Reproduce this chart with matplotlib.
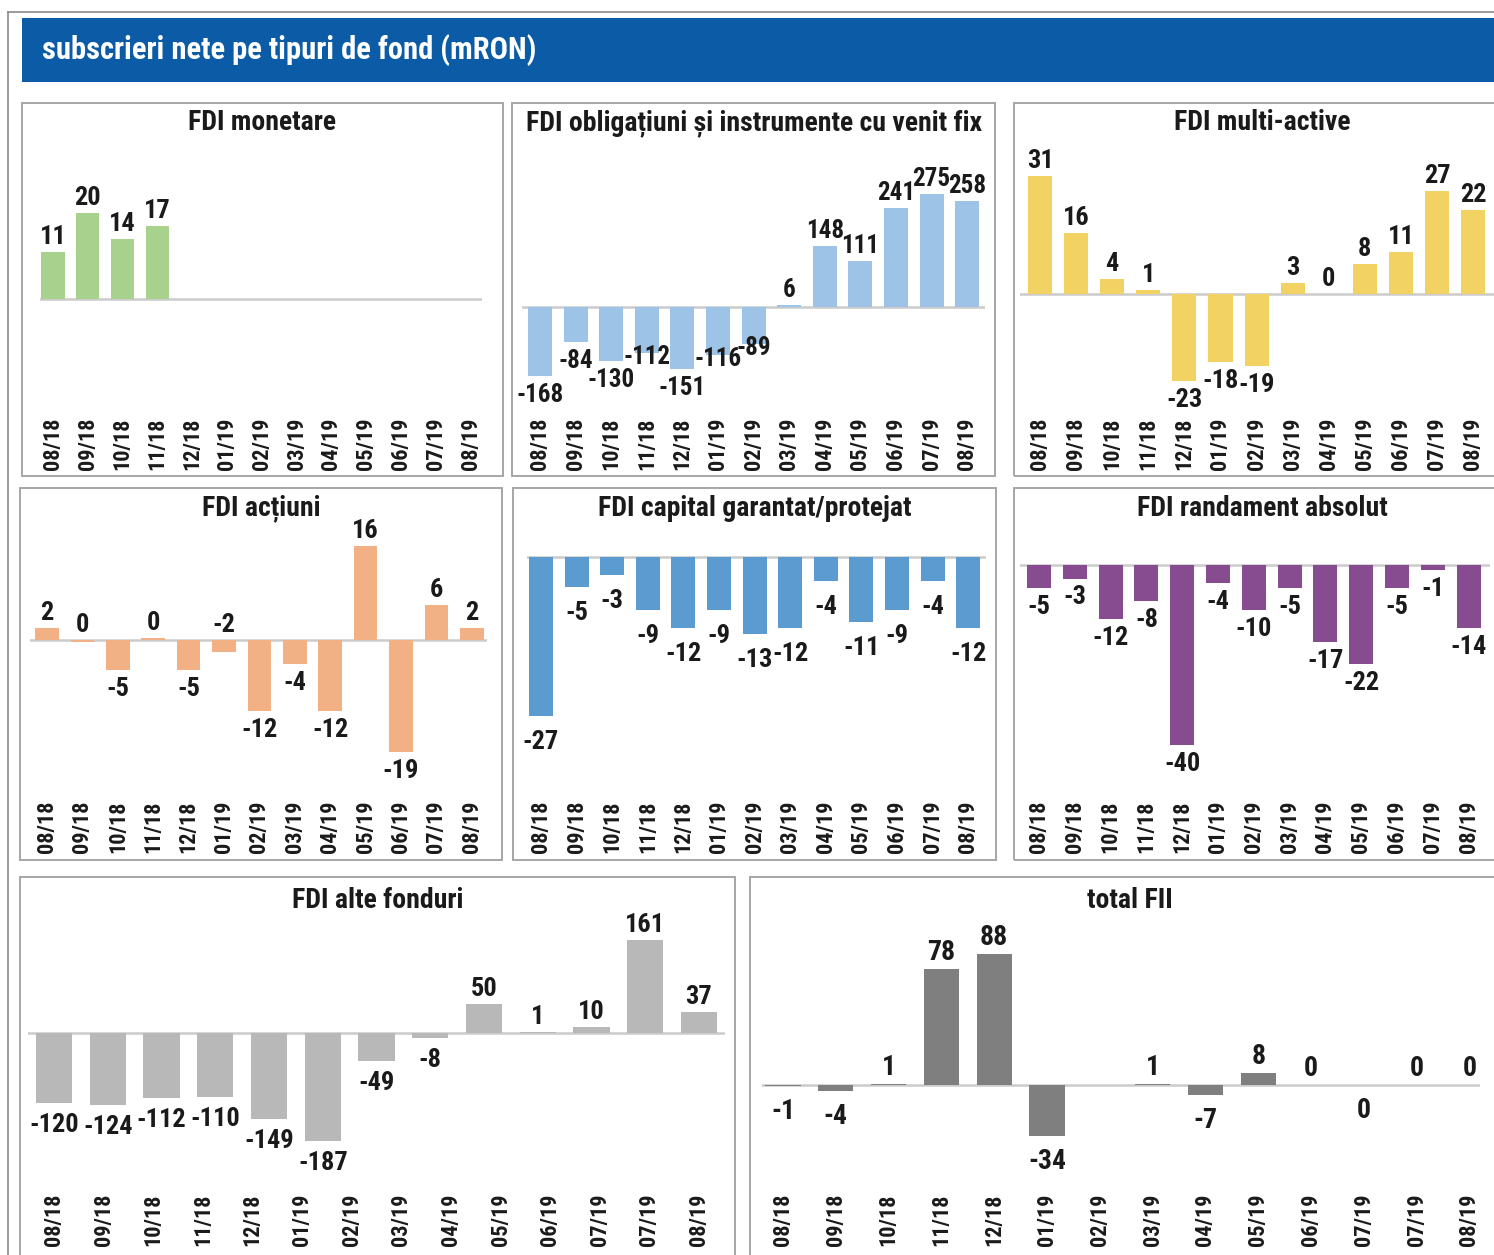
import numpy as np
import matplotlib
matplotlib.use("Agg")
import matplotlib.pyplot as plt
from matplotlib import font_manager
from matplotlib.patches import Rectangle
from matplotlib.lines import Line2D

# ---------------- data ----------------
nan = np.nan
months = ["08/18", "09/18", "10/18", "11/18", "12/18", "01/19", "02/19",
          "03/19", "04/19", "05/19", "06/19", "07/19", "08/19"]
months_14 = ["08/18", "09/18", "10/18", "11/18", "12/18", "01/19", "02/19",
             "03/19", "04/19", "05/19", "06/19", "07/19", "07/19", "08/19"]

fdi_monetare = [11, 20, 14, 17, nan, nan, nan, nan, nan, nan, nan, nan, nan]
fdi_obligatiuni = [-168, -84, -130, -112, -151, -116, -89, 6, 148, 111, 241, 275, 258]
fdi_multi_active = [31, 16, 4, 1, -23, -18, -19, 3, 0, 8, 11, 27, 22]
fdi_actiuni = [2, -0.3, -5, 0.3, -5, -2, -12, -4, -12, 16, -19, 6, 2]
fdi_capital = [-27, -5, -3, -9, -12, -9, -13, -12, -4, -11, -9, -4, -12]
fdi_randament = [-5, -3, -12, -8, -40, -4, -10, -5, -17, -22, -5, -1, -14]
fdi_alte = [-120, -124, -112, -110, -149, -187, -49, -8, 50, 1, 10, 161, 37]
total_fii = [-1, -4, 1, 78, 88, -34, nan, 1, -7, 8, 0, 0, 0, 0]

titles = ["FDI monetare", "FDI obligațiuni și instrumente cu venit fix",
          "FDI multi-active", "FDI acțiuni", "FDI capital garantat/protejat",
          "FDI randament absolut", "FDI alte fonduri", "total FII"]
header = "subscrieri nete pe tipuri de fond (mRON)"

# ---------------- font ----------------
avail = {f.name for f in font_manager.fontManager.ttflist}
FONT = "DejaVu Sans"
for cand in ["Liberation Sans Narrow", "Roboto Condensed", "Open Sans Condensed",
             "Liberation Sans", "Roboto"]:
    if cand in avail:
        FONT = cand
        break
FAM = [FONT, "DejaVu Sans"]
plt.rcParams["font.family"] = FAM

W, H = 1494, 1255
fig = plt.figure(figsize=(W / 100, H / 100), dpi=100)
fig.patch.set_facecolor("white")


def fx(x):
    return x / W


def fy(y):
    return 1 - y / H


def frect(x0, y0, x1, y1, **kw):
    r = Rectangle((fx(x0), fy(y1)), (x1 - x0) / W, (y1 - y0) / H,
                  transform=fig.transFigure, **kw)
    fig.add_artist(r)


# outer frame
fig.add_artist(Line2D([fx(8), fx(1494)], [fy(12), fy(12)], transform=fig.transFigure,
                      color="#8a8a8a", lw=1.2))
fig.add_artist(Line2D([fx(8), fx(8)], [fy(12), fy(1255)], transform=fig.transFigure,
                      color="#8a8a8a", lw=1.2))
# header band
frect(22, 18, 1496, 82, facecolor="#0b5ba6", edgecolor="none")
fig.text(fx(42), fy(50), header, color="white", fontsize=22, fontweight="bold",
         ha="left", va="center", family=FAM)

TXT = "#1a1a1a"

# panel configs: box, axes x0/x1, first centre, spacing, zero y, px/unit, ytop, ybot
panels = [
    dict(data=fdi_monetare, labels=months, color="#a9d18e", box=(22, 103, 503, 476),
         x0=40, x1=482, c0=53, sp=34.8, y0=299, s=4.3, yt=140, yb=412, title=titles[0]),
    dict(data=fdi_obligatiuni, labels=months, color="#9dc3e6", box=(512, 103, 995, 476),
         x0=522, x1=985, c0=540, sp=35.6, y0=307, s=0.412, yt=140, yb=412, title=titles[1],
         mid={3, 5, 6}, fs=18),
    dict(data=fdi_multi_active, labels=months, color="#f3d264", box=(1014, 103, 1510, 476),
         x0=1020, x1=1494, c0=1040, sp=36.1, y0=294, s=3.8, yt=140, yb=412, title=titles[2]),
    dict(data=fdi_actiuni, labels=months, color="#f2b184", box=(20, 488, 502, 860),
         x0=30, x1=487, c0=47, sp=35.4, y0=640, s=5.9, yt=525, yb=795, title=titles[3],
         above={1, 5}),
    dict(data=fdi_capital, labels=months, color="#5b9bd0", box=(513, 488, 996, 860),
         x0=527, x1=986, c0=541, sp=35.6, y0=557, s=5.9, yt=525, yb=795, title=titles[4],
         neg_gap=14),
    dict(data=fdi_randament, labels=months, color="#874c90", box=(1014, 488, 1510, 860),
         x0=1020, x1=1490, c0=1039, sp=35.8, y0=565, s=4.5, yt=525, yb=795, title=titles[5]),
    dict(data=fdi_alte, labels=months_14, color="#b8b8b8", box=(20, 877, 735, 1262),
         x0=28, x1=725, c0=54, sp=53.75, y0=1033, s=0.58, yt=915, yb=1188, title=titles[6],
         neg_gap=10, fs=19),
    dict(data=total_fii, labels=months_14, color="#7f7f7f", box=(750, 877, 1510, 1262),
         x0=762, x1=1480, c0=783, sp=52.8, y0=1085, s=1.49, yt=915, yb=1188, title=titles[7],
         below={11}, neg_gap=12, fs=20),
]

for p in panels:
    bx0, by0, bx1, by1 = p["box"]
    frect(bx0, by0, bx1, by1, facecolor="none", edgecolor="#a6a6a6", lw=1.4)
    ty = by0 + (23 if by0 > 800 else 20)
    fig.text(fx((bx0 + bx1) / 2), fy(ty), p["title"], ha="center", va="center",
             fontsize=20, fontweight="bold", color=TXT, family=FAM)

    ax = fig.add_axes([fx(p["x0"]), fy(p["yb"]), (p["x1"] - p["x0"]) / W,
                       (p["yb"] - p["yt"]) / H])
    ax.set_facecolor("none")
    vals = np.array(p["data"], dtype=float)
    n = len(vals)
    xs = np.arange(n)
    ax.set_xlim((p["x0"] - p["c0"]) / p["sp"], (p["x1"] - p["c0"]) / p["sp"])
    ax.set_ylim(-(p["yb"] - p["y0"]) / p["s"], (p["y0"] - p["yt"]) / p["s"])
    ax.axhline(0, color="#cbcbcb", lw=1.8, zorder=1)
    ax.bar(xs, np.nan_to_num(vals), width=0.67, color=p["color"], zorder=2)

    above = p.get("above", set())
    below = p.get("below", set())
    mid = p.get("mid", set())
    neg_gap = p.get("neg_gap", 7)
    fs = p.get("fs", 19)
    kw = dict(textcoords="offset pixels", ha="center", fontsize=fs, fontweight="bold",
              color=TXT, annotation_clip=False, family=FAM, zorder=5)
    for i, v in enumerate(vals):
        if np.isnan(v):
            continue
        txt = "%d" % round(v)
        if i in mid:
            ax.annotate(txt, (i, v), xytext=(0, -4), va="center", **kw)
        elif (v < 0 or i in below) and i not in above:
            ax.annotate(txt, (i, min(v, 0)), xytext=(0, -neg_gap), va="top", **kw)
        else:
            ax.annotate(txt, (i, max(v, 0)), xytext=(0, 3), va="bottom", **kw)

    labs = p["labels"]
    ticks = xs if len(labs) == n else np.linspace(0, n - 1, len(labs))
    ax.set_xticks(ticks)
    ax.set_xticklabels(labs, rotation=90, fontsize=16, fontweight="bold", color=TXT,
                       family=FAM)
    ax.tick_params(axis="x", length=0, pad=4)
    ax.set_yticks([])
    for sp_ in ax.spines.values():
        sp_.set_visible(False)

fig.savefig("out.png", dpi=100, facecolor="white")
